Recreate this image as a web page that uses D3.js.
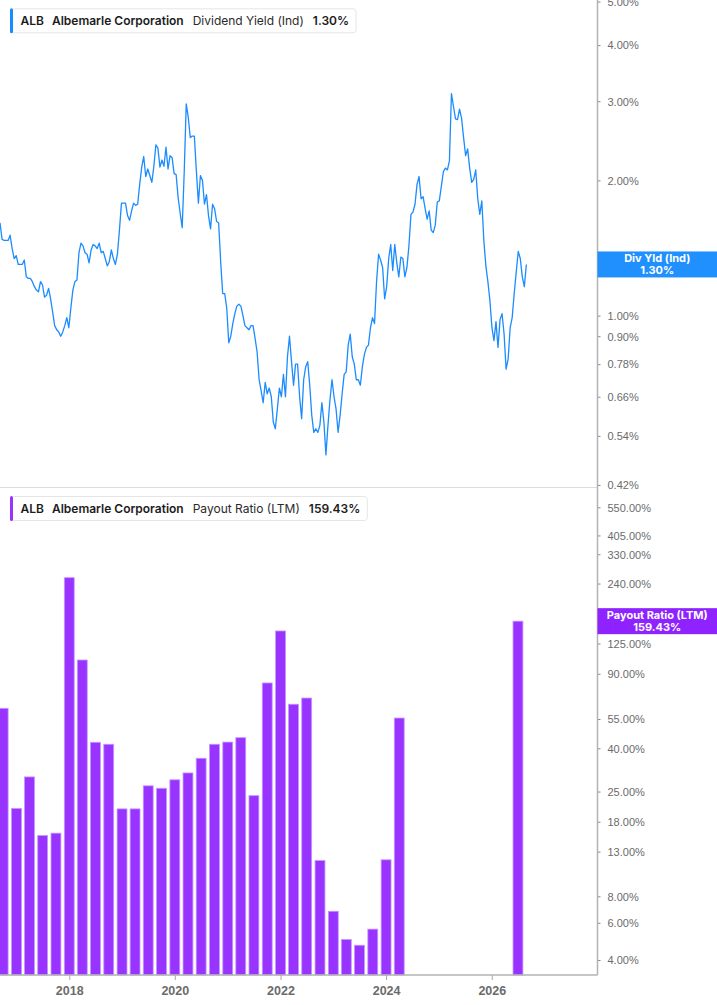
<!DOCTYPE html>
<html lang="en">
<head>
<meta charset="UTF-8">
<title>ALB Dividend Yield / Payout Ratio</title>
<script src="https://d3js.org/d3.v7.min.js"></script>
<style>
  body { margin: 0; background: #fff; font-family: Inter, 'Noto Sans', sans-serif; }
  svg { display: block; }
  .tick-label { fill: #6b6b6b; font-size: 11px; }
  .x-label { fill: #6b6b6b; font-size: 12.5px; font-weight: 600; }
  .lg-bold { fill: #1c1c1c; font-size: 12px; font-weight: 600; }
  .lg-norm { fill: #2a2a2a; font-size: 12px; font-weight: 400; }
  .tag { fill: #fff; font-size: 11px; font-weight: 700; }
</style>
</head>
<body>
<svg id="chart" width="717" height="1005"></svg>
<script>
// ---- data ----
const ticker = "ALB";
const company = "Albemarle Corporation";

// dividend yield (%), one reading every 14 days from yieldStart
const yieldStart = "2016-09-09";
const yieldStepDays = 14;
const divYield = [
  1.61,1.48,1.47,1.47,1.47,1.51,1.41,1.34,1.36,1.30,
  1.30,1.30,1.33,1.22,1.21,1.21,1.19,1.16,1.14,1.13,
  1.19,1.17,1.10,1.11,1.15,1.09,1.02,0.95,0.93,0.92,
  0.90,0.92,0.95,0.99,0.94,1.04,1.14,1.19,1.20,1.38,
  1.45,1.43,1.38,1.37,1.31,1.40,1.44,1.43,1.41,1.45,
  1.38,1.39,1.34,1.29,1.32,1.40,1.34,1.30,1.37,1.55,
  1.78,1.78,1.78,1.67,1.63,1.71,1.78,1.76,1.77,1.96,
  2.14,2.26,2.04,2.12,2.05,1.98,2.15,2.40,2.36,2.14,
  2.22,2.15,2.37,2.12,2.27,2.25,2.07,2.06,1.83,1.69,
  1.57,2.09,2.96,2.76,2.49,2.51,2.51,2.10,1.78,2.05,
  2.00,1.77,1.86,1.67,1.56,1.77,1.73,1.62,1.61,1.32,
  1.12,1.12,1.04,0.87,0.90,0.96,1.01,1.05,1.06,1.05,
  1.00,0.95,0.94,0.93,0.95,0.95,0.89,0.83,0.72,0.68,
  0.64,0.71,0.67,0.69,0.66,0.58,0.56,0.62,0.69,0.66,
  0.74,0.66,0.81,0.90,0.79,0.70,0.78,0.78,0.66,0.59,
  0.72,0.77,0.79,0.70,0.60,0.55,0.56,0.55,0.57,0.64,
  0.58,0.49,0.57,0.65,0.72,0.66,0.62,0.55,0.60,0.67,
  0.74,0.75,0.86,0.91,0.81,0.78,0.72,0.72,0.70,0.77,
  0.82,0.85,0.86,0.94,0.99,0.96,1.19,1.37,1.33,1.28,
  1.09,1.16,1.34,1.44,1.26,1.44,1.31,1.22,1.35,1.34,
  1.22,1.28,1.43,1.68,1.70,1.77,1.96,2.04,1.82,1.84,
  1.73,1.64,1.71,1.55,1.53,1.59,1.79,1.80,1.94,2.09,
  2.13,2.11,2.21,3.12,2.92,2.74,2.73,2.88,2.75,2.49,
  2.27,2.35,2.13,1.98,2.01,2.11,1.82,1.68,1.80,1.47,
  1.29,1.19,1.08,0.94,0.88,0.97,0.85,0.98,1.01,0.91,
  0.76,0.80,0.94,0.99,1.12,1.25,1.39,1.34,1.22,1.16,
  1.30
];
const yieldLast = 1.30;

// payout ratio (LTM, %), quarterly
const payoutDates = [
  "2016-10-01","2017-01-01","2017-04-01","2017-07-01","2017-10-01",
  "2018-01-01","2018-04-01","2018-07-01","2018-10-01",
  "2019-01-01","2019-04-01","2019-07-01","2019-10-01",
  "2020-01-01","2020-04-01","2020-07-01","2020-10-01",
  "2021-01-01","2021-04-01","2021-07-01","2021-10-01",
  "2022-01-01","2022-04-01","2022-07-01","2022-10-01",
  "2023-01-01","2023-04-01","2023-07-01","2023-10-01",
  "2024-01-01","2024-04-01","2026-07-01"
];
const payoutValues = [
  61.8, 20.8, 29.3, 15.5, 15.9,
  255.8, 104.5, 42.7, 41.8,
  20.7, 20.7, 26.6, 25.9,
  28.4, 30.6, 35.9, 41.8,
  42.8, 44.9, 23.9, 81.4,
  143.3, 64.6, 69.1, 11.8,
  6.8, 5.0, 4.7, 5.6,
  11.9, 55.6, 159.43
];
const payoutLast = 159.43;

const yieldTicks = [5, 4, 3, 2, 1, 0.9, 0.78, 0.66, 0.54, 0.42];
const payoutTicks = [550, 405, 330, 240, 150, 125, 90, 55, 40, 25, 18, 13, 8, 6, 4];
const yearTicks = ["2018", "2020", "2022", "2024", "2026"];

// ---- layout ----
const W = 717, H = 1005;
const plotRight = 597.5;
const top1 = 0, bottom1 = 487;
const top2 = 489, bottom2 = 975;
const blue = "#1a8cff", purple = "#9933ff", purpleTag = "#8b1cff";

const parse = d3.timeParse("%Y-%m-%d");
const svg = d3.select("#chart");

const x = d3.scaleTime()
  .domain([parse("2016-09-09"), parse("2028-01-02")])
  .range([0, plotRight]);

const yTop = d3.scaleLog().domain([0.4156, 5.04]).range([bottom1, top1]);
const yBot = d3.scaleLog().domain([3.40, 671]).range([bottom2, top2]);

const start = parse(yieldStart);
const yieldData = divYield.map((v, i) => ({ date: d3.timeDay.offset(start, i * yieldStepDays), v }));
const payoutData = payoutDates.map((d, i) => ({ date: parse(d), v: payoutValues[i] }));

const defs = svg.append("defs");
defs.append("clipPath").attr("id", "clipTop").append("rect")
  .attr("x", 0).attr("y", top1).attr("width", plotRight).attr("height", bottom1 - top1);

// ---- top panel: dividend yield line ----
svg.append("line")
  .attr("x1", 0).attr("x2", plotRight).attr("y1", bottom1 + 0.5).attr("y2", bottom1 + 0.5)
  .attr("stroke", "#dcdcdc").attr("stroke-width", 1);

svg.append("path")
  .datum(yieldData)
  .attr("clip-path", "url(#clipTop)")
  .attr("fill", "none")
  .attr("stroke", blue)
  .attr("stroke-width", 1.3)
  .attr("stroke-linejoin", "round")
  .attr("d", d3.line().x(d => x(d.date)).y(d => yTop(d.v)));

// ---- bottom panel: payout bars ----
const qW = x(parse("2018-04-01")) - x(parse("2018-01-01"));
const barW = qW * 0.76;
svg.append("g").selectAll("rect")
  .data(payoutData)
  .join("rect")
  .attr("x", d => x(d.date) - barW / 2)
  .attr("y", d => yBot(d.v))
  .attr("width", barW)
  .attr("height", d => bottom2 - yBot(d.v))
  .attr("fill", purple)
  .attr("stroke", "#c497ff")
  .attr("stroke-width", 0.8);

// ---- right axes ----
function rightAxis(scale, ticks, fmt) {
  const g = svg.append("g").attr("transform", `translate(${plotRight},0)`);
  g.call(d3.axisRight(scale).tickValues(ticks).tickFormat(fmt).tickSize(3).tickPadding(7));
  g.select(".domain").remove();
  g.selectAll(".tick line").attr("stroke", "#888");
  g.selectAll(".tick text").attr("class", "tick-label").attr("font-family", null).attr("font-size", null)
    .attr("fill", null).attr("dy", "0.35em");
  return g;
}
const pct2 = d => d3.format(".2f")(d) + "%";
rightAxis(yTop, yieldTicks, pct2);
rightAxis(yBot, payoutTicks, pct2);

svg.append("line")
  .attr("x1", plotRight).attr("x2", plotRight).attr("y1", 0).attr("y2", bottom2)
  .attr("stroke", "#b3b3b3").attr("stroke-width", 1.5);

// ---- x axis ----
const xg = svg.append("g").attr("transform", `translate(0,${bottom2})`);
xg.call(d3.axisBottom(x)
  .tickValues(yearTicks.map(y => parse(y + "-01-01")))
  .tickFormat(d3.timeFormat("%Y"))
  .tickSize(5).tickPadding(6));
xg.select(".domain").remove();
xg.selectAll(".tick line").attr("stroke", "#aaa");
xg.selectAll(".tick text").attr("class", "x-label").attr("font-family", null).attr("font-size", null).attr("fill", null);
svg.append("line")
  .attr("x1", 0).attr("x2", plotRight).attr("y1", bottom2).attr("y2", bottom2)
  .attr("stroke", "#b3b3b3").attr("stroke-width", 1.5);

// ---- value tags on the axis ----
function valueTag(yPos, color, line1, line2) {
  const g = svg.append("g");
  g.append("rect")
    .attr("x", plotRight).attr("y", yPos - 13).attr("width", W - plotRight).attr("height", 26)
    .attr("fill", color).attr("fill-opacity", 0.97);
  g.append("text").attr("class", "tag").attr("x", (plotRight + W) / 2).attr("y", yPos - 2)
    .attr("text-anchor", "middle").text(line1);
  g.append("text").attr("class", "tag").attr("x", (plotRight + W) / 2).attr("y", yPos + 9.5)
    .attr("text-anchor", "middle").text(line2);
}
valueTag(yTop(yieldLast), blue, "Div Yld (Ind)", pct2(yieldLast));
valueTag(yBot(payoutLast), purpleTag, "Payout Ratio (LTM)", pct2(payoutLast));

// ---- legends ----
function legend(yBox, color, metric, value) {
  const g = svg.append("g");
  const box = g.append("rect")
    .attr("x", 10.5).attr("y", yBox + 0.5).attr("height", 24).attr("rx", 3)
    .attr("fill", "#fff").attr("stroke", "#e6e6e6");
  g.append("rect").attr("x", 10).attr("y", yBox).attr("width", 3).attr("height", 25).attr("rx", 1.5).attr("fill", color);
  const base = yBox + 16.8;
  const parts = [
    { t: ticker, c: "lg-bold", gap: 8 },
    { t: company, c: "lg-bold", gap: 9 },
    { t: metric, c: "lg-norm", gap: 9 },
    { t: value, c: "lg-bold", gap: 0 }
  ];
  let cx = 20.5;
  parts.forEach(p => {
    const t = g.append("text").attr("class", p.c).attr("x", cx).attr("y", base).text(p.t);
    cx += t.node().getComputedTextLength() + p.gap;
  });
  box.attr("width", cx + 7 - 10.5);
}
legend(8.3, blue, "Dividend Yield (Ind)", pct2(yieldLast));
legend(496, purple, "Payout Ratio (LTM)", pct2(payoutLast));
</script>
</body>
</html>
